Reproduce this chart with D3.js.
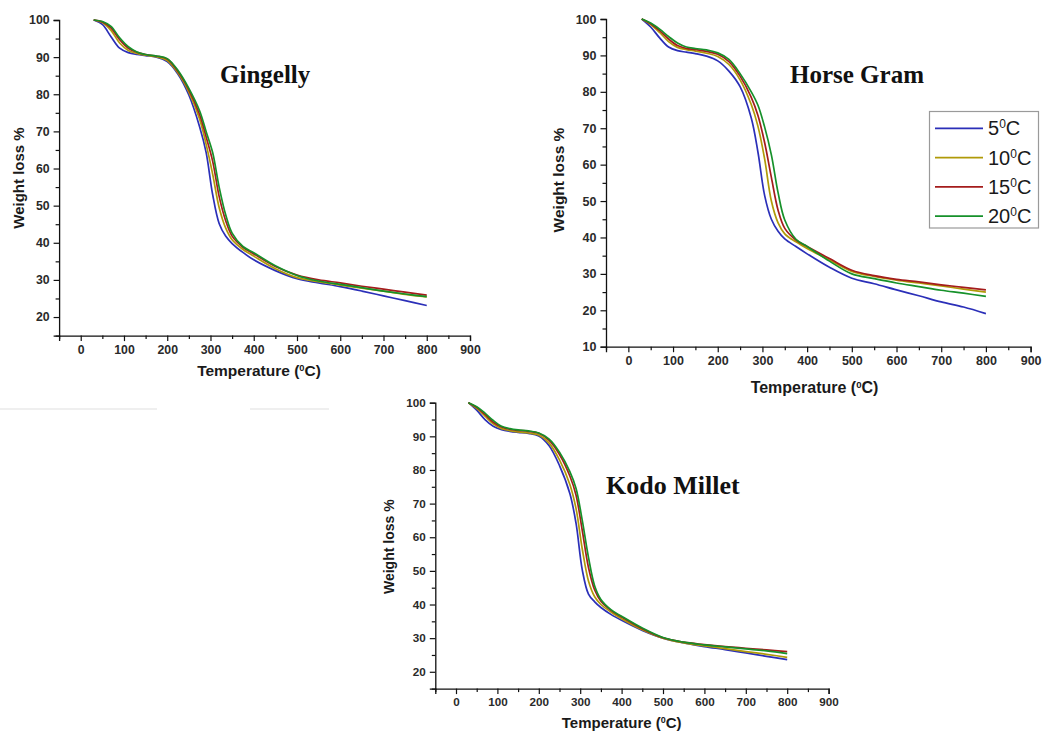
<!DOCTYPE html>
<html>
<head>
<meta charset="utf-8">
<script src="https://cdn.jsdelivr.net/npm/d3@7"></script>
<style>
  body { margin: 0; background: #fff; }
  svg { display: block; }
</style>
</head>
<body>
<svg id="chart" width="1043" height="731"></svg>
<script>
// Temperature grid (°C) shared by all TGA curves
const temperature = [30, 50, 70, 90, 110, 130, 150, 175, 200, 225, 250, 275, 290, 305, 320, 335, 350, 375, 400, 450, 500, 550, 600, 650, 700, 750, 800];

// Heating-rate labels (°C) and colours
const rateLabels = ["5", "10", "15", "20"];
const rateColors = ["#2b2fb8", "#b09a08", "#a41c1c", "#16912a"];

// Gingelly: weight loss % per heating rate
const gingelly5  = [100, 98.8, 95.5, 92.4, 91.2, 90.7, 90.4, 90.0, 88.8, 85.4, 79.8, 71.2, 64.3, 53.0, 45.2, 41.8, 39.8, 37.4, 35.4, 32.5, 30.3, 29.2, 28.2, 27.0, 25.7, 24.4, 23.1];
const gingelly10 = [100, 99.3, 97.2, 93.8, 91.8, 91.0, 90.5, 90.1, 89.1, 85.7, 80.6, 73.3, 66.5, 58.5, 49.5, 44.0, 40.8, 38.2, 36.4, 33.0, 30.6, 29.5, 28.6, 27.8, 27.0, 26.1, 25.4];
const gingelly15 = [100, 99.5, 97.9, 94.7, 92.4, 91.3, 90.7, 90.3, 89.5, 86.1, 81.2, 74.5, 68.5, 62.0, 52.5, 46.0, 41.8, 38.8, 37.0, 33.6, 31.3, 30.0, 29.2, 28.3, 27.5, 26.7, 25.9];
const gingelly20 = [100, 99.6, 98.3, 95.2, 92.8, 91.4, 90.7, 90.3, 89.6, 86.4, 81.6, 75.5, 69.9, 64.3, 55.0, 47.6, 42.6, 39.0, 37.3, 33.8, 31.2, 29.7, 28.8, 27.9, 27.0, 26.2, 25.5];

// Horse Gram
const horseGram5  = [100, 97.8, 94.8, 92.3, 91.3, 90.9, 90.5, 89.8, 88.5, 85.7, 81.4, 72.8, 63.4, 51.5, 45.0, 41.7, 39.6, 37.5, 35.5, 31.8, 28.8, 27.3, 25.6, 24.0, 22.3, 20.9, 19.1];
const horseGram10 = [100, 98.5, 96.3, 93.8, 92.2, 91.6, 91.2, 90.6, 89.7, 87.5, 83.3, 76.5, 70.5, 61.5, 50.0, 44.0, 41.0, 38.8, 37.0, 33.8, 30.7, 29.3, 28.3, 27.5, 26.7, 25.8, 25.0];
const horseGram15 = [100, 98.7, 96.8, 94.5, 92.7, 91.9, 91.6, 91.1, 90.3, 88.3, 84.3, 78.5, 73.5, 66.0, 56.5, 47.5, 42.5, 39.3, 37.5, 34.2, 31.0, 29.5, 28.5, 27.8, 27.0, 26.3, 25.6];
const horseGram20 = [100, 98.9, 97.2, 95.2, 93.4, 92.3, 91.9, 91.5, 90.7, 88.9, 85.0, 80.0, 76.3, 70.3, 62.7, 52.3, 44.8, 39.5, 37.5, 33.5, 30.0, 28.7, 27.5, 26.5, 25.5, 24.7, 23.8];

// Kodo Millet
const kodoMillet5  = [100, 97.8, 95.0, 93.0, 92.0, 91.5, 91.2, 90.9, 90.1, 87.2, 81.3, 73.0, 64.1, 50.3, 43.1, 40.8, 39.1, 37.0, 35.3, 32.3, 30.0, 28.6, 27.5, 26.6, 25.6, 24.6, 23.6];
const kodoMillet10 = [100, 98.3, 96.0, 93.7, 92.3, 91.7, 91.3, 91.0, 90.4, 88.0, 83.0, 75.7, 68.5, 56.5, 47.0, 42.3, 40.0, 37.7, 35.8, 32.5, 30.0, 28.6, 27.7, 26.9, 26.0, 25.2, 24.3];
const kodoMillet15 = [100, 98.6, 96.5, 94.2, 92.8, 92.1, 91.8, 91.5, 90.9, 88.8, 84.6, 78.2, 72.5, 62.0, 51.0, 44.3, 41.0, 38.2, 36.3, 32.8, 30.1, 28.8, 28.1, 27.5, 27.0, 26.5, 26.0];
const kodoMillet20 = [100, 98.8, 96.9, 94.7, 93.0, 92.3, 91.9, 91.6, 91.0, 89.2, 85.3, 79.5, 74.5, 65.0, 54.0, 45.5, 41.5, 38.4, 36.5, 33.0, 30.2, 28.8, 28.0, 27.4, 26.8, 26.2, 25.4];

// Axis tick values
const xMajorTicks = [0, 100, 200, 300, 400, 500, 600, 700, 800, 900];
const xMinorTicks = [-50, 50, 150, 250, 350, 450, 550, 650, 750, 850];
const yMajorTicks20 = [20, 30, 40, 50, 60, 70, 80, 90, 100];
const yMajorTicks10 = [10, 20, 30, 40, 50, 60, 70, 80, 90, 100];
const yMinorTicks = [15, 25, 35, 45, 55, 65, 75, 85, 95];

// Panel layout
const panels = [
  { title: "Gingelly", series: [gingelly5, gingelly10, gingelly15, gingelly20],
    x0: 59.1, x1: 470, yTop: 20, yBot: 335.6, yMin: 15, yTicks: yMajorTicks20,
    titleX: 220, titleY: 83, titleSize: 25,
    yLabX: 18.5, yLabY: 178, yLabSize: 15,
    xLabX: 259, xLabY: 375.5, xLabSize: 15.5, tickSize: 12.3 },
  { title: "Horse Gram", series: [horseGram5, horseGram10, horseGram15, horseGram20],
    x0: 606, x1: 1030.6, yTop: 19, yBot: 346.7, yMin: 10, yTicks: yMajorTicks10,
    titleX: 790, titleY: 82.5, titleSize: 25,
    yLabX: 558.5, yLabY: 180, yLabSize: 15.5,
    xLabX: 814.5, xLabY: 392.5, xLabSize: 16, tickSize: 12.5, legend: true },
  { title: "Kodo Millet", series: [kodoMillet5, kodoMillet10, kodoMillet15, kodoMillet20],
    x0: 435.3, x1: 828.6, yTop: 402.7, yBot: 688.6, yMin: 15, yTicks: yMajorTicks20,
    titleX: 606, titleY: 494, titleSize: 26,
    yLabX: 389, yLabY: 546.7, yLabSize: 14,
    xLabX: 621.7, xLabY: 728.3, xLabSize: 15, tickSize: 11.7 }
];

const svg = d3.select("#chart");
const sansBold = "'Liberation Sans', Arial, sans-serif";

// faint scan remnants under the top-left panel
svg.append("rect").attr("x", 0).attr("y", 408).attr("width", 157).attr("height", 2).attr("fill", "#efefef");
svg.append("rect").attr("x", 250).attr("y", 408).attr("width", 79).attr("height", 2).attr("fill", "#efefef");

function superLabel(sel, pre, post, supSize) {
  sel.append("tspan").text(pre);
  sel.append("tspan").attr("font-size", supSize).attr("baseline-shift", "super").text("0");
  sel.append("tspan").text(post);
}

panels.forEach(p => {
  const x = d3.scaleLinear().domain([-50, 900]).range([p.x0, p.x1]);
  const y = d3.scaleLinear().domain([p.yMin, 100]).range([p.yBot, p.yTop]);
  const g = svg.append("g");

  // bottom axis: major + minor ticks
  const xAxis = g.append("g").attr("transform", `translate(0,${p.yBot})`)
    .call(d3.axisBottom(x).tickValues(xMajorTicks).tickSize(5.5).tickPadding(4).tickFormat(d3.format("d")));
  g.append("g").attr("transform", `translate(0,${p.yBot})`)
    .call(d3.axisBottom(x).tickValues(xMinorTicks).tickSize(3.5).tickFormat(""))
    .call(a => a.select(".domain").remove());

  // left axis: major + minor ticks
  const yAxis = g.append("g").attr("transform", `translate(${p.x0},0)`)
    .call(d3.axisLeft(y).tickValues(p.yTicks).tickSize(5.5).tickPadding(4).tickFormat(d3.format("d")));
  g.append("g").attr("transform", `translate(${p.x0},0)`)
    .call(d3.axisLeft(y).tickValues(yMinorTicks.filter(v => v >= p.yMin)).tickSize(3.5).tickFormat(""))
    .call(a => a.select(".domain").remove());

  g.selectAll(".domain").attr("stroke", "#111").attr("stroke-width", 1.3);
  g.selectAll(".tick line").attr("stroke", "#111").attr("stroke-width", 1.2);
  [xAxis, yAxis].forEach(a => a.selectAll("text")
    .attr("font-family", sansBold).attr("font-weight", "bold")
    .attr("font-size", p.tickSize).attr("fill", "#2a2a2a"));

  // curves
  const line = d3.line()
    .x((d, i) => x(temperature[i]))
    .y(d => y(d))
    .curve(d3.curveCatmullRom.alpha(0.5));
  p.series.forEach((s, i) => {
    g.append("path").datum(s)
      .attr("d", line)
      .attr("fill", "none")
      .attr("stroke", rateColors[i])
      .attr("stroke-width", 1.7)
      .attr("stroke-linejoin", "round");
  });

  // panel title
  g.append("text").attr("x", p.titleX).attr("y", p.titleY)
    .attr("font-family", "'Liberation Serif', 'Times New Roman', serif")
    .attr("font-weight", "bold").attr("font-size", p.titleSize).attr("fill", "#111")
    .text(p.title);

  // axis titles
  g.append("text")
    .attr("transform", `translate(${p.yLabX},${p.yLabY}) rotate(-90)`)
    .attr("text-anchor", "middle").attr("dominant-baseline", "central")
    .attr("font-family", sansBold).attr("font-weight", "bold")
    .attr("font-size", p.yLabSize).attr("fill", "#1a1a1a")
    .text("Weight loss %");

  const xl = g.append("text").attr("x", p.xLabX).attr("y", p.xLabY)
    .attr("text-anchor", "middle")
    .attr("font-family", sansBold).attr("font-weight", "bold")
    .attr("font-size", p.xLabSize).attr("fill", "#1a1a1a");
  superLabel(xl, "Temperature (", "C)", p.xLabSize * 0.6);

  // legend
  if (p.legend) {
    const lg = svg.append("g");
    lg.append("rect").attr("x", 929.5).attr("y", 111.5).attr("width", 109).attr("height", 116.5)
      .attr("fill", "#fff").attr("stroke", "#9a9a9a").attr("stroke-width", 1.2);
    rateLabels.forEach((r, i) => {
      const ly = 128.3 + i * 29.3;
      lg.append("line").attr("x1", 935).attr("x2", 983).attr("y1", ly).attr("y2", ly)
        .attr("stroke", rateColors[i]).attr("stroke-width", 1.7);
      const t = lg.append("text").attr("x", 988).attr("y", ly + 7)
        .attr("font-family", "'Liberation Sans', Arial, sans-serif")
        .attr("font-size", 20).attr("fill", "#1a1a1a");
      superLabel(t, r, "C", 12);
    });
  }
});
</script>
</body>
</html>
